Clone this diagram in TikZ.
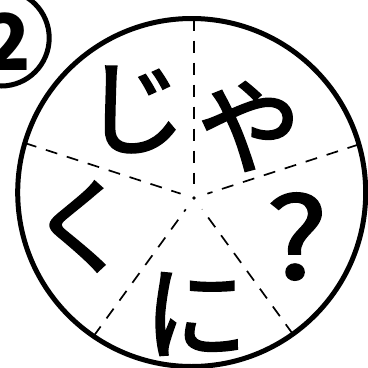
\documentclass[tikz,border=0pt]{standalone}
\usepackage{fontspec}
\newfontfamily\cjk{Noto Sans CJK JP}
\newfontfamily\cjkheavy[FakeBold=2]{Noto Sans CJK JP}
\usetikzlibrary{calc}
\tikzset{
  ring/.style={draw, circle, line width=5pt, inner sep=0pt},
  raydash/.style={line width=1.7pt, dash pattern=on 12pt off 10pt},
  kana/.style={inner sep=0pt, anchor=center, font=\cjkheavy\fontsize{104}{104}\selectfont},
}
\begin{document}
\begin{tikzpicture}[x=1pt,y=1pt]
\useasboundingbox (0,0) rectangle (368,-368);
\clip (0,0) rectangle (368,-368);
\fill[white] (0,0) rectangle (368,-368);
% main dial
\node[ring, minimum size=348pt] (dial) at (191.7,-192.5) {};
\coordinate (c) at (194,-198);
\fill (c) circle (1.8);
\foreach \a/\t [count=\i] in {90/179.5, 162/177.8, 234/170.8, 306/168.1, 18/173.4}{
  \coordinate (rim\i) at ($(c)+(\a:\t)$);
  \coordinate (hub\i) at ($(c)+(\a:14)$);
  \draw[raydash] (rim\i) -- (hub\i);
}
% circled number
\node[ring, minimum size=96pt] (badge) at (1.2,-38) {};
\node[inner sep=0pt, font=\cjk\bfseries\fontsize{78}{78}\selectfont] (two) at (7.5,-41.5) {2};
% letters
\node[kana] (ji) at (134.5,-109.5) {じ};
\node[kana] (ya) at (249,-126.5) {や};
\node[kana] (ku) at (81,-226.5) {く};
\node[kana, font=\cjkheavy\fontsize{112}{112}\selectfont, xscale=1.15, transform shape] (q) at (297,-236.5) {?};
\node[kana] (ni) at (195.5,-314) {に};
\end{tikzpicture}
\end{document}
